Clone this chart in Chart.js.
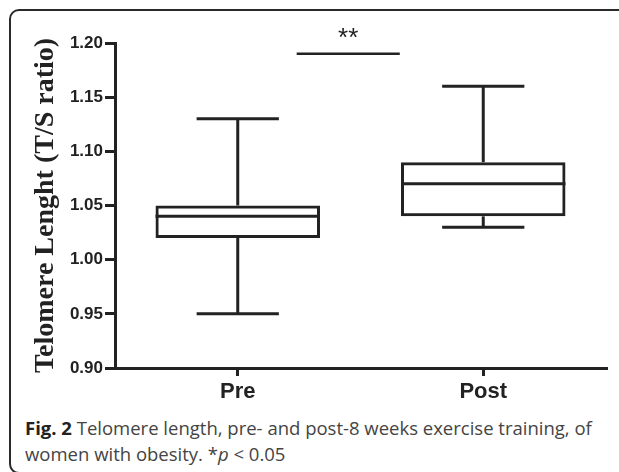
<!DOCTYPE html>
<html lang="en">
<head>
  <meta charset="UTF-8" />
  <title>Telomere length, pre and post</title>
  <script src="https://cdn.jsdelivr.net/npm/chart.js"></script>
  <style>
    body {
      margin: 0;
      background: #fff;
      width: 619px;
      height: 472px;
      overflow: hidden;
      position: relative;
    }
    .frame {
      position: absolute;
      left: 9px;
      top: 9px;
      width: 700px;
      height: 465px;
      box-sizing: border-box;
      border: 2px solid #2a2a2a;
      border-radius: 10px;
    }
    #chart {
      position: absolute;
      left: 0;
      top: 0;
    }
    .caption {
      position: absolute;
      left: 25px;
      top: 415px;
      font-family: 'Open Sans', sans-serif;
      font-size: 18.5px;
      line-height: 26px;
      color: #444;
      white-space: nowrap;
    }
    .caption b { color: #222; }
  </style>
</head>
<body>
  <div class="frame"></div>
  <canvas id="chart" width="619" height="410"></canvas>
  <div class="caption">
    <b>Fig. 2</b> Telomere length, pre- and post-8 weeks exercise training, of<br>
    women with obesity. *<i>p</i> &lt; 0.05
  </div>

  <script>
    // box plot values
    const categories = ['Pre', 'Post'];
    const whiskerMin = [0.95, 1.03];
    const quartile1 = [1.02, 1.04];
    const medians = [1.04, 1.07];
    const quartile3 = [1.05, 1.09];
    const whiskerMax = [1.13, 1.16];
    const yTicks = [0.90, 0.95, 1.00, 1.05, 1.10, 1.15, 1.20];

    // significance bracket (x in category units)
    const sigLabel = '**';
    const sigLevel = 1.19;
    const sigSpan = [0.24, 0.66];

    const ink = '#222';

    const boxPlotExtras = {
      id: 'boxPlotExtras',
      afterDatasetsDraw(chart) {
        const { ctx, scales: { x, y } } = chart;
        const meta = chart.getDatasetMeta(0);
        const line = (x1, y1, x2, y2) => {
          ctx.beginPath();
          ctx.moveTo(x1, y1);
          ctx.lineTo(x2, y2);
          ctx.stroke();
        };
        ctx.save();
        ctx.strokeStyle = ink;
        ctx.lineWidth = 3;
        categories.forEach((c, i) => {
          const cx = x.getPixelForValue(i);
          const half = meta.data[i].width / 2;
          const cap = half / 2;
          // whiskers
          line(cx, y.getPixelForValue(quartile3[i]), cx, y.getPixelForValue(whiskerMax[i]));
          line(cx, y.getPixelForValue(quartile1[i]), cx, y.getPixelForValue(whiskerMin[i]));
          line(cx - cap, y.getPixelForValue(whiskerMax[i]), cx + cap, y.getPixelForValue(whiskerMax[i]));
          line(cx - cap, y.getPixelForValue(whiskerMin[i]), cx + cap, y.getPixelForValue(whiskerMin[i]));
          // median
          line(cx - half, y.getPixelForValue(medians[i]), cx + half, y.getPixelForValue(medians[i]));
        });
        // significance bar
        const sy = y.getPixelForValue(sigLevel);
        const step = x.getPixelForValue(1) - x.getPixelForValue(0);
        const a = x.getPixelForValue(0) + sigSpan[0] * step;
        const b = x.getPixelForValue(0) + sigSpan[1] * step;
        ctx.lineWidth = 2.5;
        line(a, sy, b, sy);
        ctx.fillStyle = ink;
        ctx.font = '26px "Liberation Sans", Arial, sans-serif';
        ctx.textAlign = 'center';
        ctx.textBaseline = 'middle';
        ctx.fillText(sigLabel, (a + b) / 2, sy - 15);
        ctx.restore();
      }
    };

    new Chart(document.getElementById('chart'), {
      type: 'bar',
      data: {
        labels: categories,
        datasets: [{
          data: categories.map((c, i) => [quartile1[i], quartile3[i]]),
          backgroundColor: 'rgba(255,255,255,0)',
          borderColor: ink,
          borderWidth: 3,
          borderSkipped: false,
          categoryPercentage: 1,
          barPercentage: 0.67
        }]
      },
      options: {
        responsive: false,
        animation: false,
        layout: { padding: { top: 43, right: 13, left: 0, bottom: 0 } },
        plugins: {
          legend: { display: false },
          tooltip: { enabled: false }
        },
        scales: {
          x: {
            afterFit: s => { s.height = 42; },
            grid: {
              offset: false,
              drawOnChartArea: false,
              drawTicks: true,
              tickLength: 8,
              color: ink,
              lineWidth: 3
            },
            border: { display: true, color: ink, width: 3 },
            ticks: {
              color: ink,
              padding: 3,
              font: { family: '"Liberation Sans", Arial, sans-serif', size: 22, weight: 'bold' }
            }
          },
          y: {
            min: 0.9,
            max: 1.2,
            afterFit: s => { s.width = 115; },
            afterBuildTicks: s => { s.ticks = yTicks.map(v => ({ value: v })); },
            grid: {
              drawOnChartArea: false,
              drawTicks: true,
              tickLength: 10,
              color: ink,
              lineWidth: 3
            },
            border: { display: true, color: ink, width: 3 },
            ticks: {
              color: ink,
              padding: 2,
              callback: v => Number(v).toFixed(2),
              font: { family: '"Liberation Sans", Arial, sans-serif', size: 17, weight: 'bold' }
            },
            title: {
              display: true,
              text: 'Telomere Lenght (T/S ratio)',
              color: ink,
              padding: { top: 29, bottom: 0 },
              font: { family: '"Liberation Serif", "Times New Roman", serif', size: 28, weight: 'bold' }
            }
          }
        }
      },
      plugins: [boxPlotExtras]
    });
  </script>
</body>
</html>
